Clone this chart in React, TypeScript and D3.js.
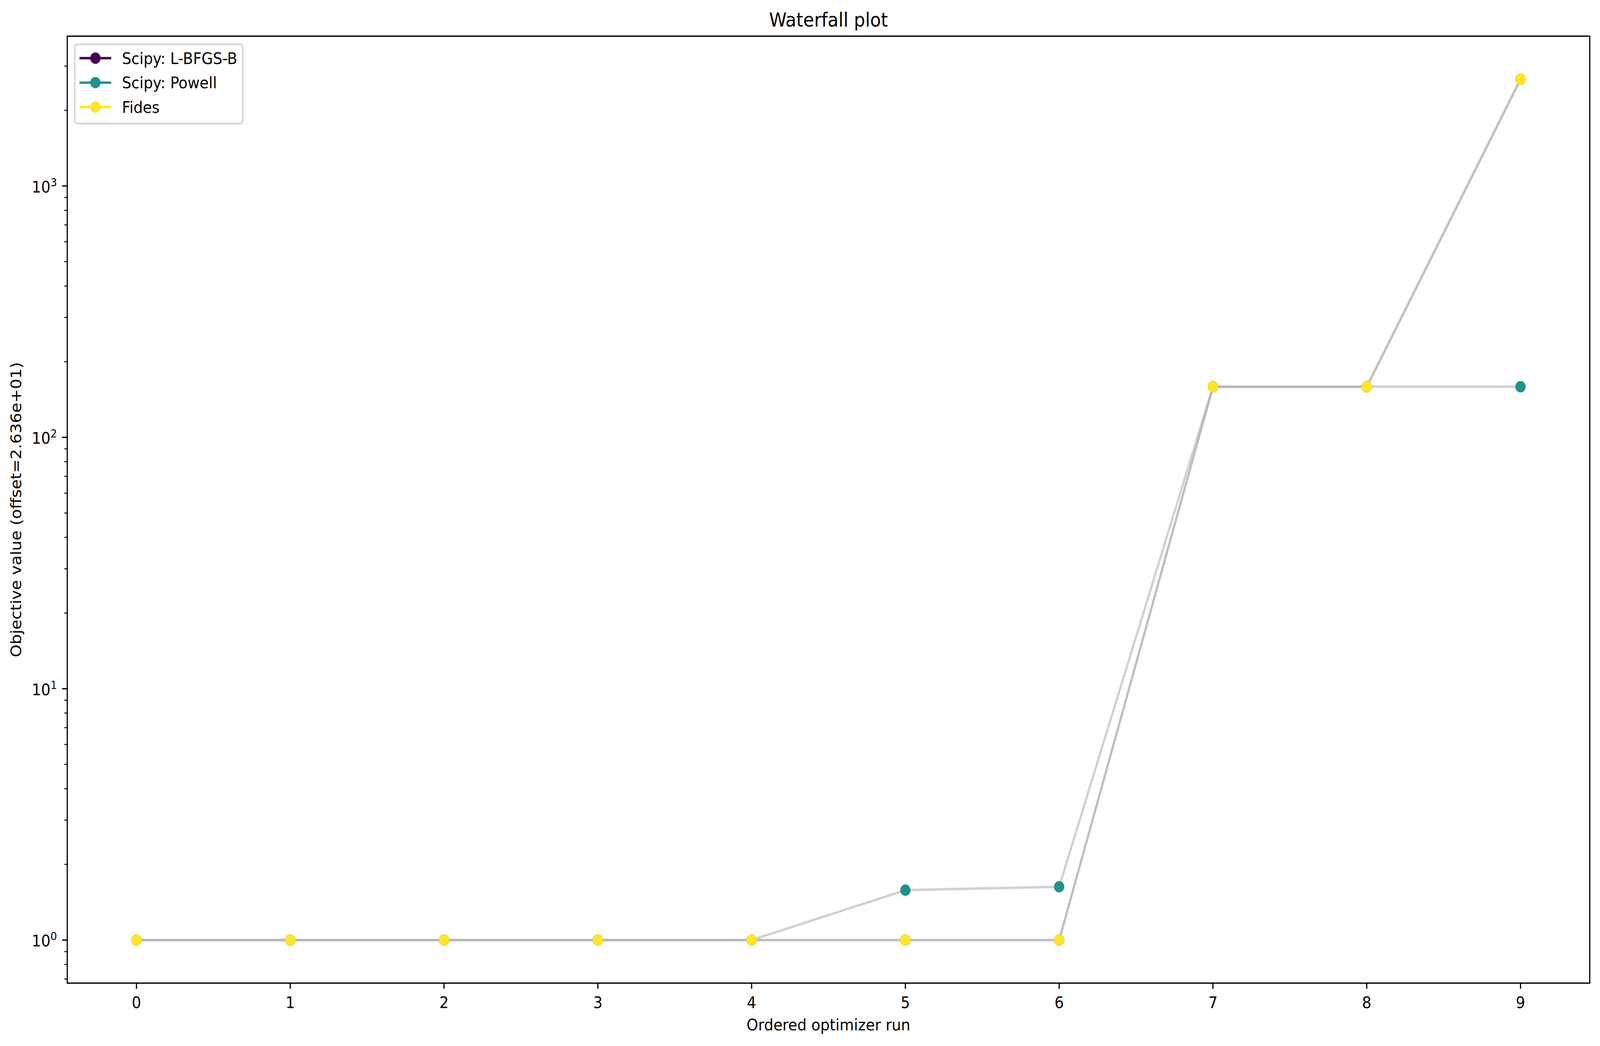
import * as React from 'react';
import * as d3 from 'd3';

// ordered optimizer runs and objective values (offset applied)
const runs = [0, 1, 2, 3, 4, 5, 6, 7, 8, 9];
const lbfgsbValues = [1, 1, 1, 1, 1, 1, 1, 159, 159, 2660];
const powellValues = [1, 1, 1, 1, 1, 1.58, 1.63, 159, 159, 159];
const fidesValues = [1, 1, 1, 1, 1, 1, 1, 159, 159, 2660];

const seriesNames = ['Scipy: L-BFGS-B', 'Scipy: Powell', 'Fides'];
const seriesColors = ['#440154', '#21918c', '#fde725'];
const xTickValues = [0, 1, 2, 3, 4, 5, 6, 7, 8, 9];

// drawing is done in reference pixels and stretched to the window
const W = 4520;
const H = 2678;
const FONT = '"DejaVu Sans", sans-serif';

export default function App() {
    let margin = { top: 92.6, right: W - 4491, bottom: H - 2517, left: 190 };
    let plotW = W - margin.left - margin.right;
    let plotH = H - margin.top - margin.bottom;

    let allValues = [...lbfgsbValues, ...powellValues, ...fidesValues];
    let logMin = Math.log10(d3.min(allValues));
    let logMax = Math.log10(d3.max(allValues));
    let pad = (logMax - logMin) * 0.05;
    let xPad = (d3.max(runs) - d3.min(runs)) * 0.05;

    let xScale = d3.scaleLinear()
        .domain([d3.min(runs) - xPad, d3.max(runs) + xPad])
        .range([0, plotW]);

    let yScale = d3.scaleLog()
        .domain([Math.pow(10, logMin - pad), Math.pow(10, logMax + pad)])
        .range([plotH, 0]);

    let line = d3.line<number>()
        .x((d, i) => xScale(runs[i]))
        .y((d) => yScale(d));

    let series = [lbfgsbValues, powellValues, fidesValues];

    let yTicks = yScale.ticks();
    let isMajor = (v: number) => Math.abs(Math.log10(v) - Math.round(Math.log10(v))) < 1e-9;

    let fs = 41.67;

    return (
        <svg viewBox={'0 0 ' + W + ' ' + H} preserveAspectRatio="none"
             style={{ position: 'fixed', left: 0, top: 0, width: '100vw', height: '100vh', display: 'block', background: '#fff' }}
             fontFamily={FONT}>
            <rect x={0} y={0} width={W} height={H} fill="#ffffff" />
            <text x={margin.left + plotW / 2} y={68.3} textAnchor="middle" fontSize={50}>Waterfall plot</text>

            <g transform={'translate(' + margin.left + ',' + margin.top + ')'}>
                {/* gray connecting lines and markers, per optimizer */}
                {series.map((vals, si) => (
                    <g key={'s' + si}>
                        <path d={line(vals)} fill="none" stroke="rgb(178.5,178.5,178.5)" strokeOpacity={0.6}
                              strokeWidth={6.25} strokeLinejoin="round" />
                        {vals.map((v, i) => (
                            <circle key={i} cx={xScale(runs[i])} cy={yScale(v)} r={12.5}
                                    fill={seriesColors[si]} stroke={seriesColors[si]} strokeWidth={4.17} />
                        ))}
                    </g>
                ))}

                {/* x axis ticks */}
                {xTickValues.map((t) => (
                    <g key={'x' + t} transform={'translate(' + xScale(t) + ',' + plotH + ')'}>
                        <line x1={0} x2={0} y1={0} y2={14.6} stroke="#000" strokeWidth={3.33} />
                        <text x={0} y={64} textAnchor="middle" fontSize={fs}>{t}</text>
                    </g>
                ))}

                {/* y axis ticks, log scale */}
                {yTicks.map((t, i) => {
                    let major = isMajor(t);
                    let yy = yScale(t);
                    return (
                        <g key={'y' + i}>
                            <line x1={0} x2={major ? -14.6 : -8.3} y1={yy} y2={yy} stroke="#000"
                                  strokeWidth={major ? 3.33 : 2.5} />
                            {major && (
                                <text x={-29} y={yy + 16.5} textAnchor="end" fontSize={fs}>
                                    <tspan>10</tspan>
                                    <tspan fontSize={29} dy={-16}>{Math.round(Math.log10(t))}</tspan>
                                </text>
                            )}
                        </g>
                    );
                })}

                {/* spines */}
                <rect x={0} y={0} width={plotW} height={plotH} fill="none" stroke="#000" strokeWidth={3.33} />

                {/* legend */}
                <g transform="translate(21,20.8)">
                    <rect x={0} y={0} width={475} height={203} rx={8} ry={8} fill="#fff" fillOpacity={0.8}
                          stroke="#cccccc" strokeOpacity={0.8} strokeWidth={4.17} />
                    {seriesNames.map((name, i) => {
                        let cy = 35.5 + i * 62.6;
                        return (
                            <g key={name}>
                                <line x1={16.7} x2={100} y1={cy} y2={cy} stroke={seriesColors[i]} strokeWidth={6.25}
                                      strokeLinecap="square" />
                                <circle cx={58.5} cy={cy} r={12.5} fill={seriesColors[i]} stroke={seriesColors[i]}
                                        strokeWidth={4.17} />
                                <text x={133.5} y={cy + 15} fontSize={fs}>{name}</text>
                            </g>
                        );
                    })}
                </g>
            </g>

            <text x={margin.left + plotW / 2} y={2638} textAnchor="middle" fontSize={fs}>Ordered optimizer run</text>
            <text transform={'translate(60,' + (margin.top + plotH / 2) + ') rotate(-90)'} textAnchor="middle"
                  fontSize={fs}>Objective value (offset=2.636e+01)</text>
        </svg>
    );
}
